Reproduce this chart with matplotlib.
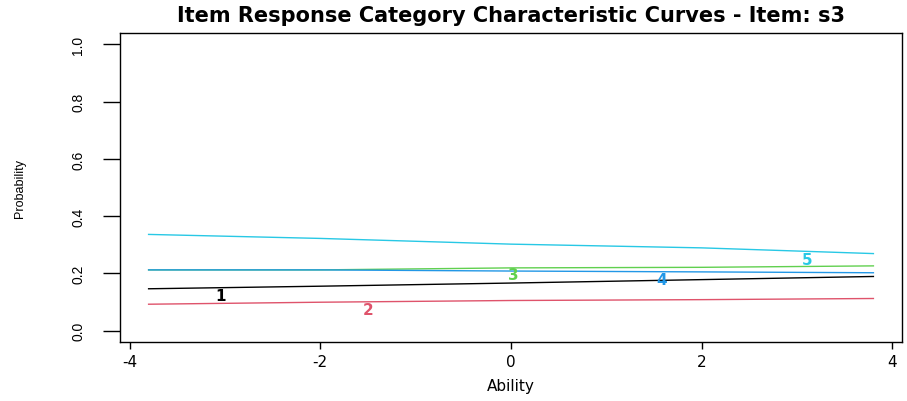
import numpy as np
import matplotlib
matplotlib.use("Agg")
import matplotlib.pyplot as plt

plt.rcParams['font.family'] = ['DejaVu Sans']

# ability grid and category probabilities read at those points
ability = [-3.8, -2.0, 0.0, 2.0, 3.8]
cat1 = [0.146, 0.155, 0.166, 0.178, 0.189]
cat2 = [0.092, 0.099, 0.105, 0.108, 0.112]
cat3 = [0.212, 0.212, 0.219, 0.221, 0.226]
cat4 = [0.212, 0.212, 0.208, 0.205, 0.202]
cat5 = [0.336, 0.322, 0.302, 0.289, 0.269]
categories = ["1", "2", "3", "4", "5"]

# where each category number is written
label_x = [-3.05, -1.5, 0.02, 1.58, 3.1]
label_y = [0.122, 0.073, 0.196, 0.178, 0.248]

colors = ["black", "#DF536B", "#61D04F", "#2297E6", "#28C8E5"]
series = [cat1, cat2, cat3, cat4, cat5]

fig = plt.figure(figsize=(9.07, 4.02), dpi=100)
ax = fig.add_axes([0.1323, 0.1468, 0.8622, 0.7686])

for vals, col in zip(series, colors):
    ax.plot(ability, vals, color=col, lw=1.0)
for lab, lx, ly, col in zip(categories, label_x, label_y, colors):
    ax.text(lx, ly, lab, color=col, fontsize=11, fontweight="bold",
            ha="center", va="center")

ax.set_xlim(-4.1, 4.1)
ax.set_ylim(-0.04, 1.04)
ax.set_xticks([-4, -2, 0, 2, 4])
ax.set_xticklabels(["-4", "-2", "0", "2", "4"])
ax.set_yticks([0.0, 0.2, 0.4, 0.6, 0.8, 1.0])
ax.set_yticklabels(["0.0", "0.2", "0.4", "0.6", "0.8", "1.0"], rotation=90,
                   va="center", fontfamily="Liberation Sans")
ax.tick_params(axis="x", direction="out", length=5, width=1.0, labelsize=11, pad=4)
ax.tick_params(axis="y", direction="out", length=12, width=1.0, labelsize=10, pad=13)
for sp in ax.spines.values():
    sp.set_linewidth(1.0)

ax.set_xlabel("Ability", fontsize=11)
ax.xaxis.set_label_coords(0.5, -0.14)
ax.xaxis.label.set_va("center")
ax.set_ylabel("Probability", fontsize=9, fontfamily="Liberation Sans")
ax.yaxis.set_label_coords(-0.128, 0.5)
ax.yaxis.label.set_va("center")
ax.set_title("Item Response Category Characteristic Curves - Item: s3",
             fontsize=15, fontweight="bold", pad=9)

fig.savefig("out.png", dpi=100)
